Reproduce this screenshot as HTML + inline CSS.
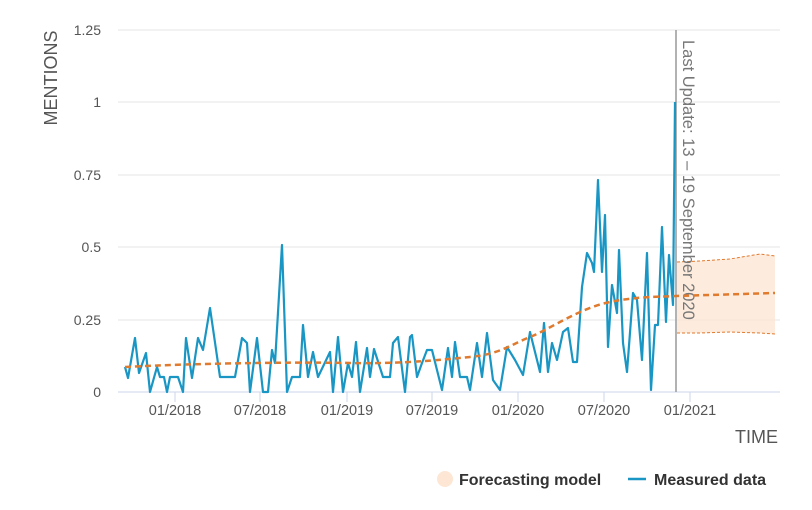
<!DOCTYPE html>
<html><head><meta charset="utf-8"><style>body{margin:0;background:#fff}svg{display:block;font-family:"Liberation Sans",sans-serif}</style></head><body>
<svg width="812" height="510" viewBox="0 0 812 510">
<g stroke="#e6e6e6" stroke-width="1">
<line x1="118" y1="30" x2="780" y2="30"/><line x1="118" y1="102" x2="780" y2="102"/><line x1="118" y1="175" x2="780" y2="175"/><line x1="118" y1="247" x2="780" y2="247"/><line x1="118" y1="320" x2="780" y2="320"/>
</g>
<line x1="118" y1="392" x2="780" y2="392" stroke="#ccd6eb"/>
<g stroke="#ccd6eb"><line x1="175" y1="392" x2="175" y2="402"/><line x1="260" y1="392" x2="260" y2="402"/><line x1="347" y1="392" x2="347" y2="402"/><line x1="432" y1="392" x2="432" y2="402"/><line x1="518" y1="392" x2="518" y2="402"/><line x1="604" y1="392" x2="604" y2="402"/><line x1="690" y1="392" x2="690" y2="402"/></g>
<g fill="#555" font-size="14" text-anchor="end">
<text x="101" y="35">1.25</text><text x="101" y="107">1</text><text x="101" y="180">0.75</text><text x="101" y="252">0.5</text><text x="101" y="325">0.25</text><text x="101" y="397">0</text></g>
<g fill="#555" font-size="14.5" text-anchor="middle">
<text x="175" y="415">01/2018</text><text x="260" y="415">07/2018</text><text x="347" y="415">01/2019</text><text x="432" y="415">07/2019</text><text x="518" y="415">01/2020</text><text x="604" y="415">07/2020</text><text x="690" y="415">01/2021</text></g>
<text transform="translate(57,78) rotate(-90)" text-anchor="middle" font-size="18" fill="#555">MENTIONS</text>
<text x="778" y="443" text-anchor="end" font-size="18" fill="#555">TIME</text>
<path d="M677,262 L700,261 L730,259 L760,254 L775,256 L775,334 L760,333 L730,332 L700,333 L677,333 Z" fill="#fde6d4" opacity="0.8"/>
<path d="M677,262 L700,261 L730,259 L760,254 L775,256" fill="none" stroke="#e07a2e" stroke-width="1" stroke-dasharray="3,2"/>
<path d="M677,333 L700,333 L730,332 L760,333 L775,334" fill="none" stroke="#e07a2e" stroke-width="1" stroke-dasharray="3,2"/>
<line x1="676" y1="30" x2="676" y2="392" stroke="#999" stroke-width="1.5"/>
<text transform="translate(683,40) rotate(90)" font-size="16.5" fill="#777">Last Update: 13 – 19 September 2020</text>
<polyline fill="none" stroke="#1a96c4" stroke-width="2.2" stroke-linejoin="round" points="125,367 128,378 135,338 139,373 146,353 150,392 157,367 160,377 164,377 167,392 170,377 178,377 183,392 186,338 192,378 198,338 203,350 210,308 220,377 235,377 242,338 247,343 250,392 257,338 263,392 268,392 272,350 275,363 282,245 287,392 292,377 300,377 303,325 308,377 313,352 318,377 330,352 333,392 338,337 343,392 348,363 352,377 356,342 360,392 367,348 370,377 374,349 383,377 390,377 393,343 398,337 405,392 410,337 412,335 417,377 422,363 427,350 432,350 442,390 448,348 452,377 455,342 460,377 467,377 470,390 477,343 482,377 487,333 493,380 500,390 507,347 515,360 523,375 530,332 540,372 544,323 548,372 552,343 557,360 563,332 568,328 573,362 577,362 582,287 587,253 592,263 594,272 598,180 602,272 605,215 608,347 612,285 617,313 619,250 623,343 627,372 633,293 637,300 642,360 647,253 651,390 655,325 658,325 662,227 666,322 669,255 673,305 675,102"/>
<path d="M125,367 C200,363 300,362 350,363 S440,360 470,357 S510,345 530,337 S580,308 610,302 S660,297 676,296 L775,293" fill="none" stroke="#e07a2e" stroke-width="2.5" stroke-dasharray="6,4"/>
<circle cx="445" cy="479" r="8" fill="#fde6d4"/>
<text x="459" y="485" font-size="16" font-weight="bold" fill="#333">Forecasting model</text>
<line x1="628" y1="479" x2="646" y2="479" stroke="#1a96c4" stroke-width="2.5"/>
<text x="654" y="485" font-size="16" font-weight="bold" fill="#333">Measured data</text>
</svg>
</body></html>
